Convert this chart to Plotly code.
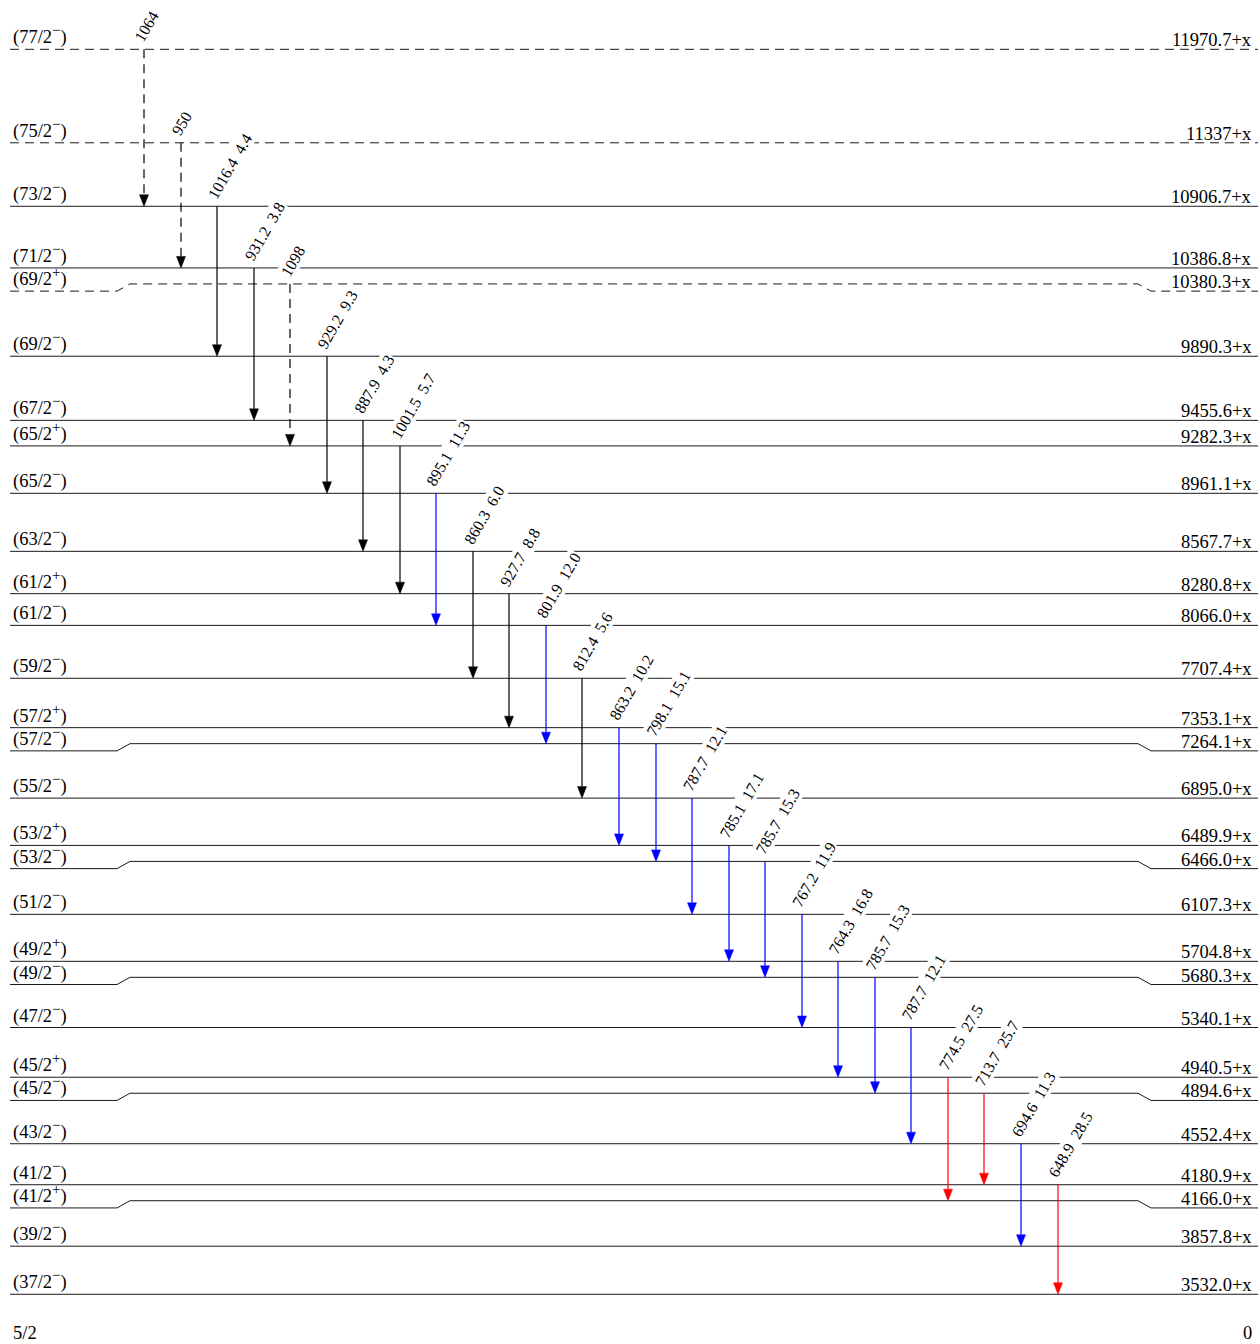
import math
import plotly.graph_objects as go

# ---- level scheme data -------------------------------------------------------
# Excitation energies (keV, relative to the band head x) and spin-parity labels
level_keV = ["11970.7", "11337", "10906.7", "10386.8", "10380.3", "9890.3",
             "9455.6", "9282.3", "8961.1", "8567.7", "8280.8", "8066.0",
             "7707.4", "7353.1", "7264.1", "6895.0", "6489.9", "6466.0",
             "6107.3", "5704.8", "5680.3", "5340.1", "4940.5", "4894.6",
             "4552.4", "4180.9", "4166.0", "3857.8", "3532.0"]
level_spin = ["77/2−", "75/2−", "73/2−", "71/2−", "69/2+", "69/2−",
              "67/2−", "65/2+", "65/2−", "63/2−", "61/2+", "61/2−",
              "59/2−", "57/2+", "57/2−", "55/2−", "53/2+", "53/2−",
              "51/2−", "49/2+", "49/2−", "47/2−", "45/2+", "45/2−",
              "43/2−", "41/2−", "41/2+", "39/2−", "37/2−"]
tentative_levels = ["11970.7", "11337", "10380.3"]

ground_spin = "5/2"
ground_keV = "0"

# Gamma-ray transitions: energy, relative intensity, initial and final level
gamma_keV = ["1064", "950", "1016.4", "931.2", "1098", "929.2", "887.9",
             "1001.5", "895.1", "860.3", "927.7", "801.9", "812.4", "863.2",
             "798.1", "787.7", "785.1", "785.7", "767.2", "764.3", "785.7",
             "787.7", "774.5", "713.7", "694.6", "648.9"]
gamma_int = ["", "", "4.4", "3.8", "", "9.3", "4.3", "5.7", "11.3", "6.0",
             "8.8", "12.0", "5.6", "10.2", "15.1", "12.1", "17.1", "15.3",
             "11.9", "16.8", "15.3", "12.1", "27.5", "25.7", "11.3", "28.5"]
gamma_from = ["11970.7", "11337", "10906.7", "10386.8", "10380.3", "9890.3",
              "9455.6", "9282.3", "8961.1", "8567.7", "8280.8", "8066.0",
              "7707.4", "7353.1", "7264.1", "6895.0", "6489.9", "6466.0",
              "6107.3", "5704.8", "5680.3", "5340.1", "4940.5", "4894.6",
              "4552.4", "4180.9"]
gamma_to = ["10906.7", "10386.8", "9890.3", "9455.6", "9282.3", "8961.1",
            "8567.7", "8280.8", "8066.0", "7707.4", "7353.1", "7264.1",
            "6895.0", "6489.9", "6466.0", "6107.3", "5704.8", "5680.3",
            "5340.1", "4940.5", "4894.6", "4552.4", "4166.0", "4180.9",
            "3857.8", "3532.0"]
gamma_type = ["E2", "E2", "E2", "E2", "E2", "E2", "E2", "E2", "M1", "E2",
              "E2", "M1", "E2", "M1", "M1", "M1", "M1", "M1", "M1", "M1",
              "M1", "M1", "E1", "E1", "M1", "E1"]

# ---- drawing style -----------------------------------------------------------
W, H = 1260, 1344
FONT = "Liberation Serif, Times New Roman, serif"
FSIZE = 18.5
GSIZE = 16
SUP_SIZE = 15
type_color = {"E2": "#000000", "M1": "#0000ff", "E1": "#ff0000"}
LINE_COLOR = "#1a1a1a"
DASH = "9px,6px"

PX_PER_KEV = 0.14753          # vertical scale
TOP_PAD_PX = 49.3             # space above the highest level
X_LEFT, X_RIGHT = 10, 1258    # extent of level lines
KINK_L = (117, 130)           # where a displaced level bends back
KINK_R = (1138, 1151)
KINK_DROP_PX = 7.2
MIN_GAP_PX = 16.0
COL0, COL_STEP = 144.0, 36.54
HEAD_LEN_PX, HEAD_HALF_PX = 11.5, 4.5
ANGLE = 60

E = [float(s) for s in level_keV]
e_max = max(E)
y_hi = e_max + TOP_PAD_PX / PX_PER_KEV
y_lo = y_hi - H / PX_PER_KEV
kev = lambda px: px / PX_PER_KEV

# Spread out levels that would overlap on the page
n = len(E)
disp = list(E)
kinked = set()
order = sorted(range(n), key=lambda i: E[i])
prev = None
for i in order:
    if prev is not None and disp[i] - disp[prev] < kev(MIN_GAP_PX):
        disp[i] = disp[prev] + kev(MIN_GAP_PX)
        kinked.add(prev)
    prev = i
pos = {level_keV[i]: disp[i] for i in range(n)}

shapes, annotations = [], []
label_font = dict(family=FONT, size=FSIZE, color="black")
gamma_font = dict(family=FONT, size=GSIZE, color="black")

for i in range(n):
    y = disp[i]
    dash = DASH if level_keV[i] in tentative_levels else "solid"
    if i in kinked:
        ye = y - kev(KINK_DROP_PX)
        path = (f"M{X_LEFT},{ye} L{KINK_L[0]},{ye} L{KINK_L[1]},{y} "
                f"L{KINK_R[0]},{y} L{KINK_R[1]},{ye} L{X_RIGHT},{ye}")
    else:
        ye = y
        path = f"M{X_LEFT},{y} L{X_RIGHT},{y}"
    shapes.append(dict(type="path", path=path, xref="x", yref="y",
                       line=dict(color=LINE_COLOR, width=1, dash=dash),
                       layer="above"))
    spin = level_spin[i]
    spin_txt = (f"({spin[:-1]}<sup><span style='font-size:{SUP_SIZE}px'>"
                f"{spin[-1]}</span></sup>)")
    annotations.append(dict(x=13, y=ye, xref="x", yref="y", text=spin_txt,
                            showarrow=False, xanchor="left", yanchor="bottom",
                            yshift=1, borderpad=0, borderwidth=0,
                            font=label_font))
    annotations.append(dict(x=1252, y=ye, xref="x", yref="y",
                            text=f"{level_keV[i]}+x",
                            showarrow=False, xanchor="right", yanchor="bottom",
                            yshift=-1, borderpad=0, borderwidth=0,
                            font=label_font))

for k, eg in enumerate(gamma_keV):
    x = round(COL0 + COL_STEP * k)
    y0 = pos[gamma_from[k]]
    y1 = pos[gamma_to[k]]
    col = type_color[gamma_type[k]]
    dash = DASH if gamma_from[k] in tentative_levels else "solid"
    yb = y1 + kev(HEAD_LEN_PX)
    shapes.append(dict(type="line", x0=x, x1=x, y0=y0, y1=yb, xref="x",
                       yref="y", line=dict(color=col, width=1.2, dash=dash),
                       layer="above"))
    shapes.append(dict(type="path", xref="x", yref="y",
                       path=(f"M{x - HEAD_HALF_PX},{yb} L{x + HEAD_HALF_PX},{yb} "
                             f"L{x},{y1} Z"),
                       fillcolor=col, line=dict(color=col, width=0.5),
                       layer="above"))
    txt = eg if not gamma_int[k] else f"{eg}\u00a0\u00a0{gamma_int[k]}"
    annotations.append(dict(x=x, y=y0, xref="x", yref="y", text=txt,
                            showarrow=False, textangle=-ANGLE,
                            xanchor="left", yanchor="bottom",
                            xshift=-14, yshift=3,
                            bgcolor="white", borderpad=1, borderwidth=0,
                            font=gamma_font))

annotations.append(dict(x=13, y=0, xref="x", yref="paper", text=ground_spin,
                        showarrow=False, xanchor="left", yanchor="bottom",
                        yshift=1, borderpad=0, borderwidth=0, font=label_font))
annotations.append(dict(x=1252, y=0, xref="x", yref="paper", text=ground_keV,
                        showarrow=False, xanchor="right", yanchor="bottom",
                        yshift=1, borderpad=0, borderwidth=0, font=label_font))

fig = go.Figure()
fig.add_trace(go.Scatter(x=[], y=[], hoverinfo="skip", showlegend=False))
fig.update_layout(
    width=W, height=H,
    margin=dict(l=0, r=0, t=0, b=0),
    paper_bgcolor="white", plot_bgcolor="white",
    xaxis=dict(range=[0, W], visible=False, fixedrange=True),
    yaxis=dict(range=[y_lo, y_hi], visible=False, fixedrange=True),
    shapes=shapes, annotations=annotations, showlegend=False,
)
fig.write_html("out.html", config={"displayModeBar": False})
